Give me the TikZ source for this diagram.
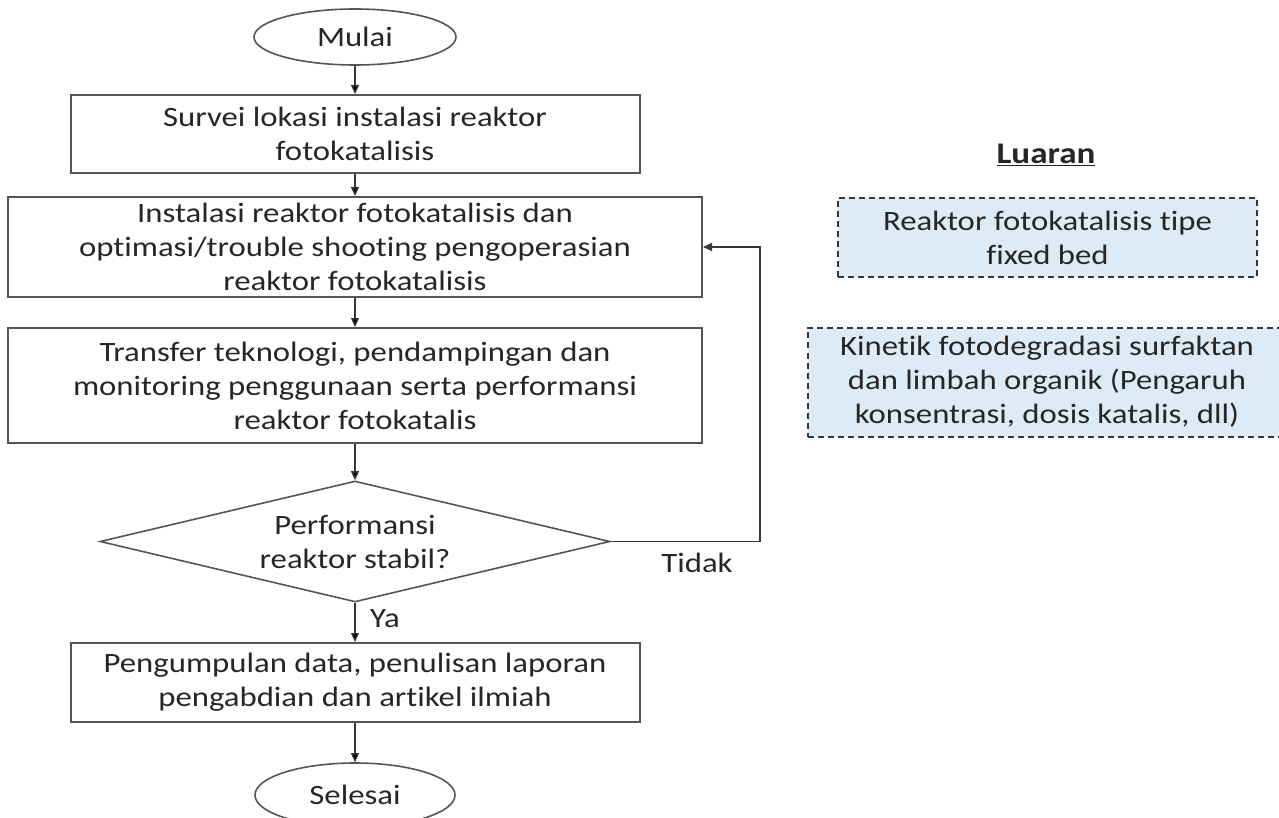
\documentclass[tikz,border=0pt]{standalone}
\usepackage[usenames,dvipsnames]{xcolor}
\usepackage{fontspec}
\setmainfont{Carlito}[FakeStretch=1.17,Ligatures=NoCommon]
\usepackage{tikz}
\usetikzlibrary{arrows.meta,shapes.geometric}

\definecolor{garis}{RGB}{85,85,85}
\definecolor{panah}{RGB}{55,55,55}
\definecolor{tulisan}{RGB}{38,38,38}
\definecolor{biru}{RGB}{221,235,247}

\begin{document}
\begin{tikzpicture}[x=1pt,y=-1pt,
  font=\fontsize{28}{34}\selectfont, text=tulisan,
  proses/.style={draw=garis, line width=2pt, align=center, inner sep=0pt},
  terminal/.style={ellipse, draw=garis, line width=1.6pt, inner sep=0pt},
  keputusan/.style={diamond, draw=garis, line width=1.6pt, aspect=4.2, inner sep=0pt, align=center},
  luaran/.style={draw=panah, dash pattern=on 6pt off 4pt, line width=2pt, fill=biru, align=center},
  alur/.style={draw=panah, line width=1.3pt, -{Triangle[length=9pt,width=8pt]}}]
\useasboundingbox (0,0) rectangle (1279,818);

% alur kegiatan
\draw (355,37) node[terminal, minimum width=202pt, minimum height=56pt] (mulai) {Mulai};
\draw (355,134) node[proses, minimum width=569pt, minimum height=78pt] (survei) {Survei lokasi instalasi reaktor\\fotokatalisis};
\draw (355,247) node[proses, minimum width=694pt, minimum height=100pt] (instalasi) {Instalasi reaktor fotokatalisis dan\\optimasi/trouble shooting pengoperasian\\reaktor fotokatalisis};
\draw (355,385.5) node[proses, minimum width=694pt, minimum height=115pt] (transfer) {Transfer teknologi, pendampingan dan\\monitoring penggunaan serta performansi\\reaktor fotokatalis};
\draw (355,541.5) node[keputusan, minimum width=510pt, minimum height=121pt] (stabil) {Performansi\\reaktor stabil?};
\draw (355,682.5) node[proses, minimum width=569pt, minimum height=79pt] (laporan) {Pengumpulan data, penulisan laporan\\pengabdian dan artikel ilmiah};
\draw (355,795) node[terminal, minimum width=200pt, minimum height=64pt] (selesai) {Selesai};
  \draw (385,619) node (ya) {Ya};
  \draw (697,563) node (tidak) {Tidak};
  \coordinate (balik) at (760,541.5);

     \path[alur] (mulai) edge (survei);
     \path[alur] (survei) edge (instalasi);
     \path[alur] (instalasi) edge (transfer);
     \path[alur] (transfer) edge (stabil);
     \path[alur] (stabil) edge (laporan);
     \path[alur] (laporan) edge (selesai);
     \draw[alur] (stabil.east) -- (balik) |- (instalasi.east);

% luaran
\draw (1046,155) node[font=\fontsize{30}{34}\selectfont\bfseries] (judul) {\underline{Luaran}};
\draw (1047.5,237.5) node[luaran, minimum width=419pt, minimum height=79pt] (reaktor) {Reaktor fotokatalisis tipe\\fixed bed};
\draw (1047,382) node[luaran, minimum width=478pt, minimum height=109pt] (kinetik) {Kinetik fotodegradasi surfaktan\\dan limbah organik (Pengaruh\\konsentrasi, dosis katalis, dll)};

\end{tikzpicture}
\end{document}
